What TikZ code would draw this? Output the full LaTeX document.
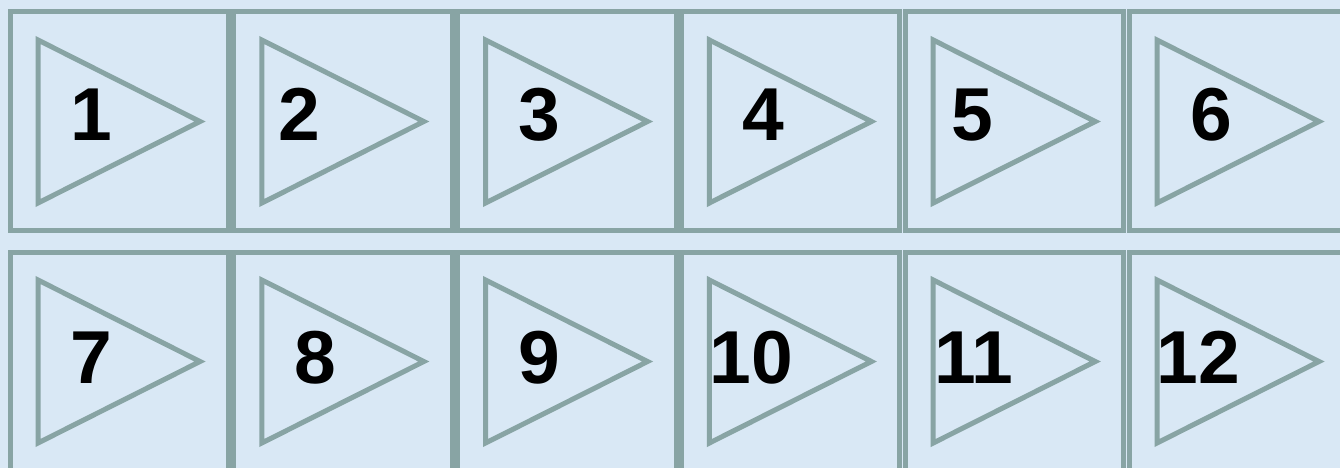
\documentclass[tikz,border=0pt]{standalone}
\usepackage{fontspec}
\setmainfont{Liberation Sans}
\definecolor{bgblue}{HTML}{D9E8F5}
\definecolor{edgegray}{HTML}{88A4A4}
\begin{document}
\begin{tikzpicture}[x=1pt,y=-1pt,
  cell/.style={draw=edgegray, line width=5pt, rectangle, minimum width=218.5pt,
    minimum height=218pt, anchor=north west, inner sep=0pt, outer sep=0pt},
  tri/.style={draw=edgegray, line width=5pt, line join=miter},
  num/.style={font=\bfseries\fontsize{75}{75}\selectfont, anchor=base, inner sep=0pt, text=black}]
\fill[bgblue] (0,0) rectangle (1340,468);
\useasboundingbox (0,0) rectangle (1340,468);
\clip (0,0) rectangle (1340,468);
\foreach \i/\L/\T/\nx/\ny in {
  1/10/12/91.5/140, 2/233.8/12/299/140, 3/457.6/12/539.5/140,
  4/681.4/12/763.5/140, 5/905.2/12/972/140, 6/1129/12/1211.5/140,
  7/10/252/91.5/383, 8/233.8/252/315.5/383, 9/457.6/252/539.5/383,
  10/681.4/252/751/383, 11/905.2/252/974/383, 12/1129/252/1198.5/383}{
  \node[cell] (box\i) at (\L,\T) {};
  \draw[tri] ([shift={(28,28)}]box\i.north west) -- ++(0,163) -- ++(162,-81.5) -- cycle;
  \node[num] (n\i) at (\nx,\ny) {\i};
}
\end{tikzpicture}
\end{document}
